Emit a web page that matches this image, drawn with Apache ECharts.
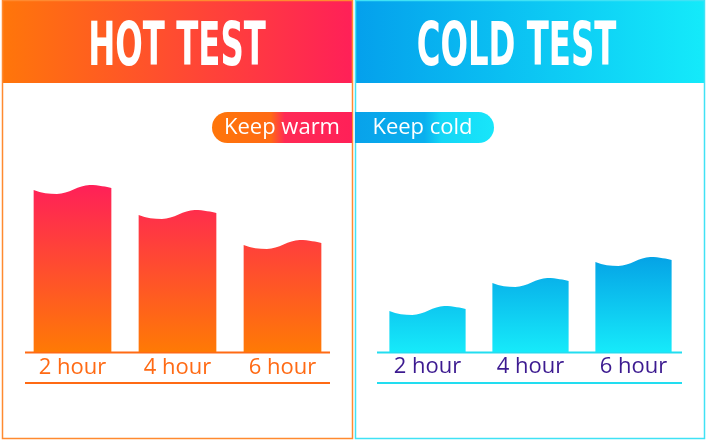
<!DOCTYPE html>
<html><head><meta charset="utf-8">
<script src="https://cdn.jsdelivr.net/npm/echarts@6/dist/echarts.min.js"></script>
<style>html,body{margin:0;padding:0;background:#fff}#c{width:710px;height:441px}</style>
</head><body><div id="c"></div>
<script>
const hotCategories = ['2 hour', '4 hour', '6 hour'];
const coldCategories = ['2 hour', '4 hour', '6 hour'];
const hotValues = [162, 137, 107];
const coldValues = [41, 69, 90];
const panelTitles = ['HOT TEST', 'COLD TEST'];
const badgeLabels = ['Keep warm', 'Keep cold'];
const yMax = 200;

const chart = echarts.init(document.getElementById('c'), null, { renderer: 'canvas' });

function waveBar(values, colorTop, colorBottom) {
  const maxV = Math.max.apply(null, values);
  return function (params, api) {
    const cat = api.value(0);
    const val = api.value(1);
    const top = api.coord([cat, val]);
    const base = api.coord([cat, 0]);
    const gTop = api.coord([cat, maxV])[1] - 5;
    const band = api.size([1, 0])[0];
    const w = band * 0.74;
    const xL = top[0] - w / 2, xR = top[0] + w / 2, yT = top[1], yB = base[1];
    const X = t => (xL + t * w).toFixed(2);
    const d = 'M' + xL + ' ' + yB + ' L' + xL + ' ' + yT +
      ' C' + X(0.1) + ' ' + (yT + 3) + ' ' + X(0.2) + ' ' + (yT + 4) + ' ' + X(0.3) + ' ' + (yT + 4) +
      ' C' + X(0.45) + ' ' + (yT + 4) + ' ' + X(0.58) + ' ' + (yT - 5) + ' ' + X(0.72) + ' ' + (yT - 5) +
      ' C' + X(0.84) + ' ' + (yT - 5) + ' ' + X(0.94) + ' ' + (yT - 3) + ' ' + xR + ' ' + (yT - 2) +
      ' L' + xR + ' ' + yB + ' Z';
    return {
      type: 'path',
      shape: { pathData: d },
      style: {
        fill: {
          type: 'linear', x: 0, y: gTop, x2: 0, y2: yB, global: true,
          colorStops: [{ offset: 0, color: colorTop }, { offset: 1, color: colorBottom }]
        }
      }
    };
  };
}

const labelFont = "'Open Sans', 'Noto Sans', sans-serif";
const titleFont = "'DejaVu Sans Condensed', 'DejaVu Sans', sans-serif";

chart.setOption({
  animation: false,
  grid: [
    { left: 20, width: 315, top: 152, height: 200 },
    { left: 376, width: 309, top: 152, height: 200 }
  ],
  xAxis: [
    {
      type: 'category', gridIndex: 0, data: hotCategories,
      axisLine: { show: false }, axisTick: { show: false },
      axisLabel: { fontSize: 22, color: '#FF6A14', fontFamily: labelFont, margin: 5 }
    },
    {
      type: 'category', gridIndex: 1, data: coldCategories,
      axisLine: { show: false }, axisTick: { show: false },
      axisLabel: { fontSize: 22, color: '#3C1A90', fontFamily: labelFont, margin: 4 }
    }
  ],
  yAxis: [
    { type: 'value', gridIndex: 0, min: 0, max: yMax, show: false },
    { type: 'value', gridIndex: 1, min: 0, max: yMax, show: false }
  ],
  series: [
    {
      type: 'custom', xAxisIndex: 0, yAxisIndex: 0,
      data: hotValues.map((v, i) => [i, v]), encode: { x: 0, y: 1 },
      renderItem: waveBar(hotValues, '#FF2058', '#FF7A05')
    },
    {
      type: 'custom', xAxisIndex: 1, yAxisIndex: 1,
      data: coldValues.map((v, i) => [i, v]), encode: { x: 0, y: 1 },
      renderItem: waveBar(coldValues, '#05A3E6', '#16EAFA')
    }
  ],
  graphic: [
    // headers
    { type: 'rect', shape: { x: 2, y: 0, width: 350, height: 83 }, style: { fill: { type: 'linear', x: 0, y: 0, x2: 1, y2: 0, colorStops: [{ offset: 0, color: '#FF760A' }, { offset: 1, color: '#FF2058' }] } } },
    { type: 'rect', shape: { x: 355, y: 0, width: 349, height: 83 }, style: { fill: { type: 'linear', x: 0, y: 0, x2: 1, y2: 0, colorStops: [{ offset: 0, color: '#04A0EC' }, { offset: 1, color: '#14EAFA' }] } } },
    // borders
    { type: 'rect', shape: { x: 2.5, y: 0.5, width: 350, height: 438 }, style: { fill: 'none', stroke: '#FF8A30', lineWidth: 1.5 } },
    { type: 'rect', shape: { x: 355.5, y: 0.5, width: 349, height: 438 }, style: { fill: 'none', stroke: '#40E2F5', lineWidth: 1.5 } },
    // titles
    { type: 'text', x: 177, y: 49, scaleX: 0.6, style: { text: panelTitles[0], fill: '#fff', font: 'bold 60px ' + titleFont, align: 'center', verticalAlign: 'middle' } },
    { type: 'text', x: 516.5, y: 49, scaleX: 0.6, style: { text: panelTitles[1], fill: '#fff', font: 'bold 60px ' + titleFont, align: 'center', verticalAlign: 'middle' } },
    // badges
    { type: 'rect', shape: { x: 212, y: 112, width: 140, height: 31, r: [15.5, 0, 0, 15.5] }, style: { fill: { type: 'linear', x: 0, y: 0, x2: 1, y2: 0, colorStops: [{ offset: 0, color: '#FF760A' }, { offset: 0.42, color: '#FF6A14' }, { offset: 0.52, color: '#FF2A55' }, { offset: 1, color: '#FF2058' }] } } },
    { type: 'rect', shape: { x: 355, y: 112, width: 139, height: 31, r: [0, 15.5, 15.5, 0] }, style: { fill: { type: 'linear', x: 0, y: 0, x2: 1, y2: 0, colorStops: [{ offset: 0, color: '#08A2EA' }, { offset: 0.5, color: '#0AB0EE' }, { offset: 0.62, color: '#14D6F6' }, { offset: 1, color: '#18E6FA' }] } } },
    { type: 'text', x: 282, y: 127.5, style: { text: badgeLabels[0], fill: '#fff', font: '22px ' + labelFont, align: 'center', verticalAlign: 'middle' } },
    { type: 'text', x: 422.5, y: 127.5, style: { text: badgeLabels[1], fill: '#fff', font: '22px ' + labelFont, align: 'center', verticalAlign: 'middle' } },
    // rules
    { type: 'line', shape: { x1: 25, y1: 352.5, x2: 330, y2: 352.5 }, style: { stroke: '#FF6A14', lineWidth: 2 } },
    { type: 'line', shape: { x1: 25, y1: 383, x2: 330, y2: 383 }, style: { stroke: '#FF6A14', lineWidth: 2 } },
    { type: 'line', shape: { x1: 377, y1: 352.5, x2: 682, y2: 352.5 }, style: { stroke: '#22DDF0', lineWidth: 2 } },
    { type: 'line', shape: { x1: 377, y1: 383, x2: 682, y2: 383 }, style: { stroke: '#22DDF0', lineWidth: 2 } }
  ]
});
</script>
</body></html>
